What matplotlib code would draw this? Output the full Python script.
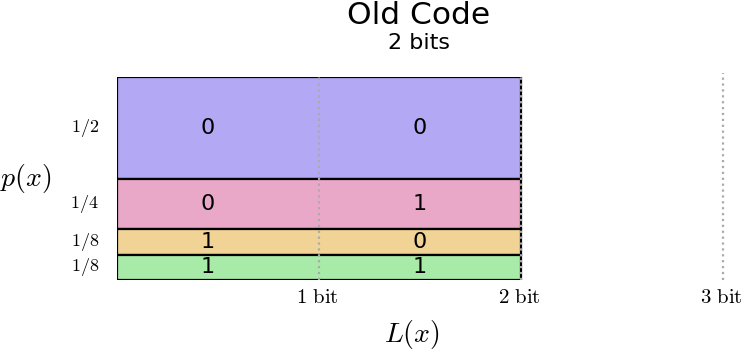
import matplotlib
matplotlib.use("Agg")
import matplotlib.pyplot as plt
from matplotlib.patches import Rectangle

# dados (de cima para baixo)
probs = [1/2, 1/4, 1/8, 1/8]
prob_labels = ["$1/2$", "$1/4$", "$1/8$", "$1/8$"]
code_lengths = [2, 2, 2, 2]
codewords = ["00", "01", "10", "11"]
colors = ["#b3a8f4", "#eaa8c8", "#f1d495", "#a8eba8"]
bit_ticks = [1, 2, 3]
bit_labels = ["$1\\ \\mathrm{bit}$", "$2\\ \\mathrm{bit}$", "$3\\ \\mathrm{bit}$"]

plt.rcParams["mathtext.fontset"] = "cm"

fig = plt.figure(figsize=(7.41, 3.56), dpi=100)
ax = fig.add_axes([117 / 741, 76 / 356, 606 / 741, 203 / 356])
ax.set_xlim(0, 3)
ax.set_ylim(0, 1)
ax.axis("off")

# retangulos empilhados
top = 1.0
centers = []
for p, L, c in zip(probs, code_lengths, colors):
    bottom = top - p
    ax.add_patch(Rectangle((0, bottom), L, p, facecolor=c, edgecolor="black",
                           linewidth=1.6, zorder=1))
    centers.append(bottom + p / 2)
    top = bottom

# digitos de cada codigo
for yc, code in zip(centers, codewords):
    ax.text(0.45, yc, code[0], ha="center", va="center", fontsize=16, zorder=3)
    ax.text(1.5, yc, code[1], ha="center", va="center", fontsize=16, zorder=3)

# linhas pontilhadas (a que fica fora dos blocos sobe um pouco mais)
for b in bit_ticks:
    y_top = 1.0 if b <= max(code_lengths) else 1.02
    ax.plot([b, b], [0, y_top], linestyle=":", color="#aaaaaa", linewidth=1.6,
            zorder=2, clip_on=False)

# rotulos
for yc, lab in zip(centers, prob_labels):
    ax.text(-0.09, yc, lab, ha="right", va="center", fontsize=13)
for b, lab in zip(bit_ticks, bit_labels):
    ax.text(b - 0.01, -0.085, lab, ha="center", va="center", fontsize=15)

ax.text(-0.45, 0.5, "$p(x)$", ha="center", va="center", fontsize=20)
ax.text(1.46, -0.27, "$L(x)$", ha="center", va="center", fontsize=20)

fig.text(419 / 741, 1 - 15 / 356, "Old Code", ha="center", va="center", fontsize=22.5)
fig.text(419 / 741, 1 - 43 / 356, "2 bits", ha="center", va="center", fontsize=16)

fig.savefig("out.png", dpi=100)
